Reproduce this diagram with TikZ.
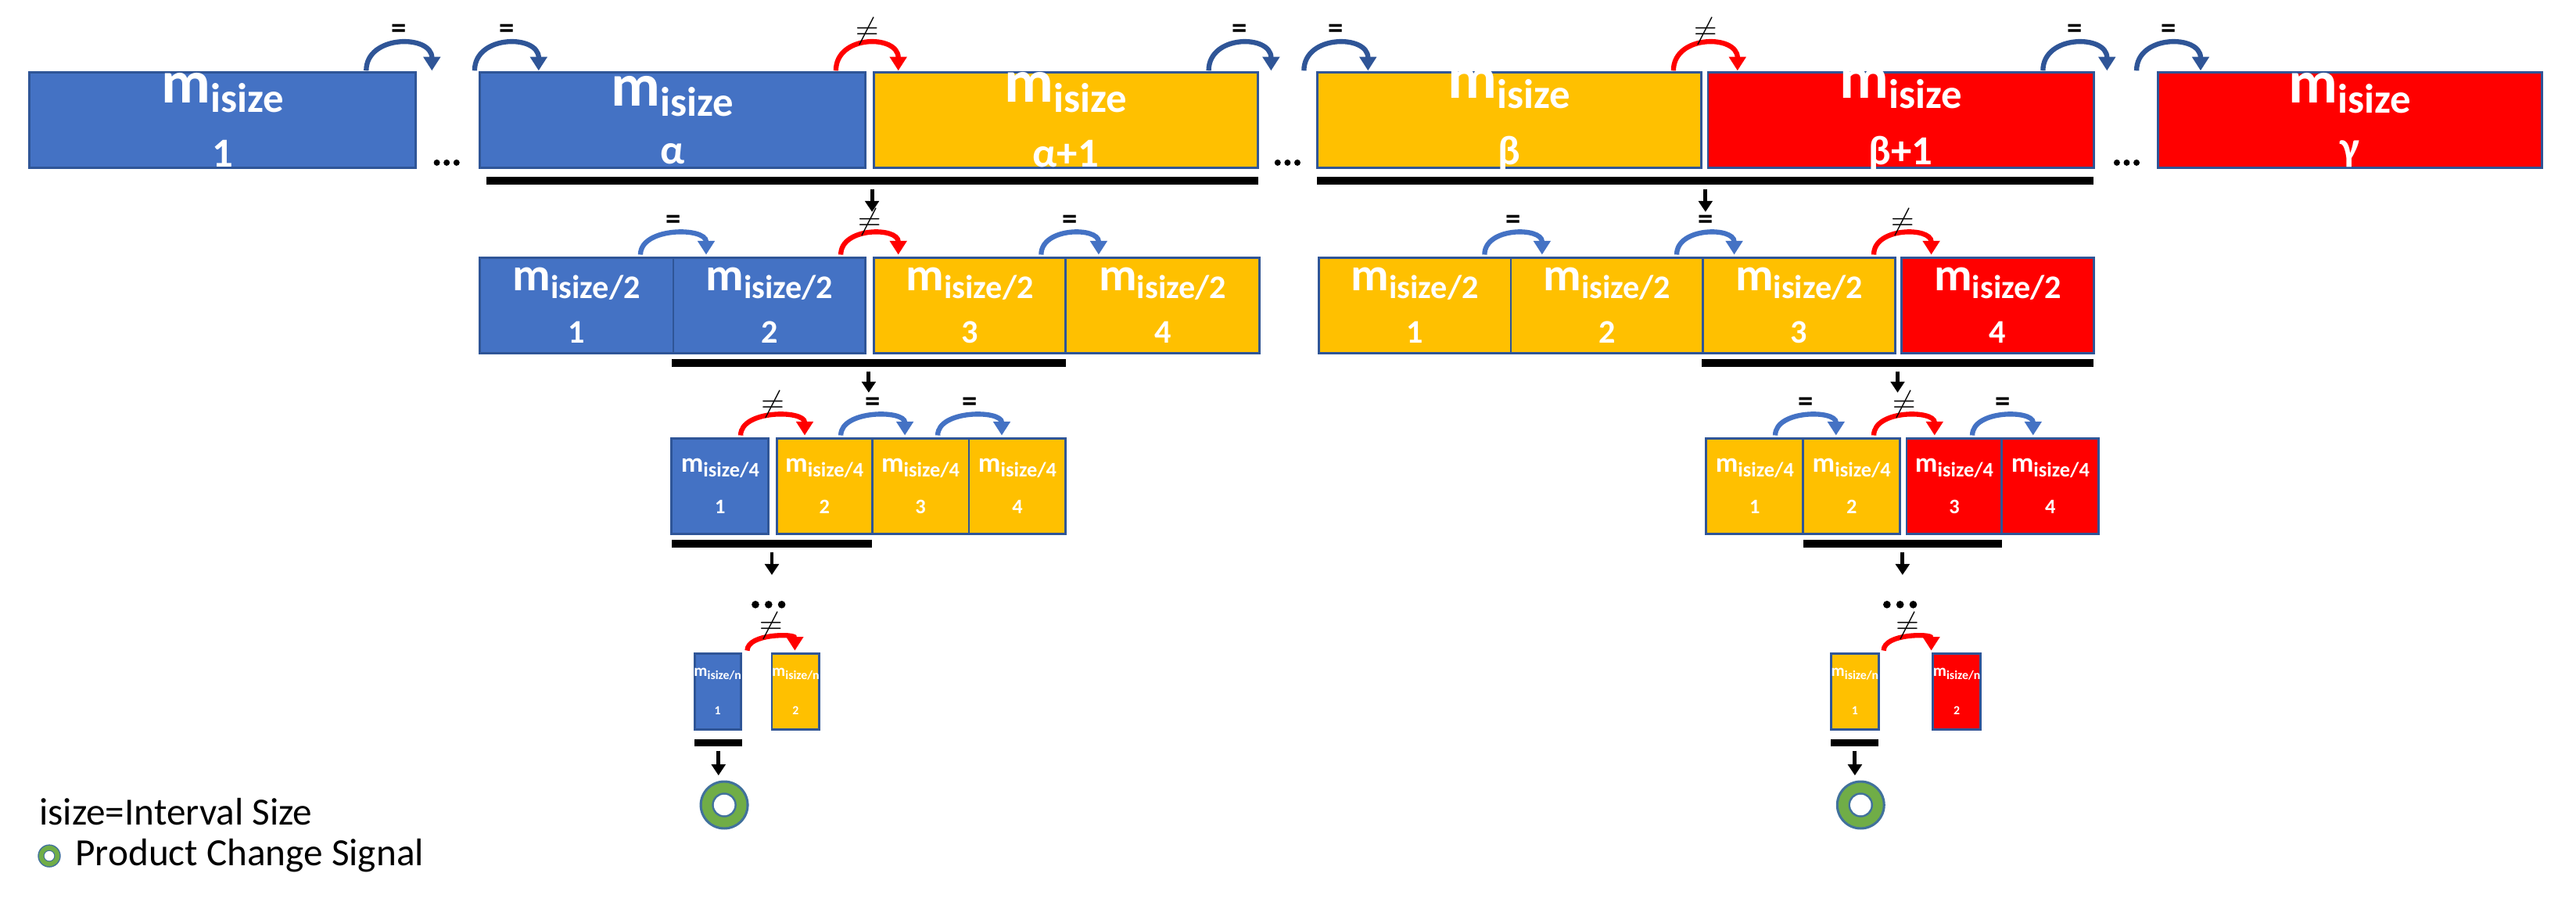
\documentclass[tikz,border=0pt]{standalone}
\usepackage{fontspec}
\setmainfont{Carlito}
\usetikzlibrary{arrows.meta}
\definecolor{cb}{HTML}{4472C4}
\definecolor{cy}{HTML}{FFC000}
\definecolor{cr}{HTML}{FF0000}
\definecolor{cbd}{HTML}{2F5597}
\definecolor{cg}{HTML}{70AD47}
\definecolor{cgb}{HTML}{41719C}
\newcommand\mlab[5]{\fontsize{#1}{#1}\selectfont\textbf{m}\raisebox{-0.35ex}{\fontsize{#2}{#2}\selectfont\textbf{#3}}\\[#5]\fontsize{#2}{#2}\selectfont\textbf{#4}}
\newcommand\bx[7]{\draw[box,fill=#5] (#1,#2) rectangle (#3,#4) node[midway,txt] (#6) {#7};}
\newcommand\arcc[6]{\draw[arc,#4] (#1,#3) .. controls (#1,#3-#6*1.3) and (#2,#3-#6*1.3) .. (#2,#3);
  \node[font=\bfseries\fontsize{11}{11}\selectfont] at ({(#1+#2)/2},#3-#6-7) {#5};}
\newcommand\ubar[4]{\fill (#1,#3-2.2) rectangle (#2,#3+2.2); \draw[dn] ({(#1+#2)/2},#3+5) -- ({(#1+#2)/2},#3+#4);}
\newcommand\ring[3]{\fill[cgb] (#1,#2) circle (#3); \fill[cg] (#1,#2) circle (#3*0.9); \fill[cgb] (#1,#2) circle (#3*0.5); \fill[white] (#1,#2) circle (#3*0.42);}
\begin{document}
\begin{tikzpicture}[x=0.021cm,y=-0.021cm,
  box/.style={draw=cbd,line width=0.8pt},
  txt/.style={text=white,align=center,inner sep=0pt},
  arc/.style={line width=1.8pt,-{Triangle[width=6pt,length=5pt]}},
  dn/.style={line width=1.4pt,-{Triangle[width=5pt,length=4pt]}}]
\useasboundingbox (0,0) rectangle (1568.6,548.6);
% row 1
\def\A{\mlab{22}{15}{isize}}
\bx{18}{44}{253}{102}{cb}{t1}{\A{1}{9pt}}
\bx{292}{44}{527}{102}{cb}{ta}{\A{α}{9pt}}
\bx{532}{44}{766}{102}{cy}{ta1}{\A{α+1}{9pt}}
\bx{802}{44}{1036}{102}{cy}{tb}{\A{β}{9pt}}
\bx{1040}{44}{1275}{102}{cr}{tb1}{\A{β+1}{9pt}}
\bx{1314}{44}{1548}{102}{cr}{tg}{\A{γ}{9pt}}
\foreach \x in {272,784,1295}{\foreach \d in {-6,0,6}\fill (\x+\d,99) circle (1.9);}
\arcc{223}{263}{43}{cbd}{=}{17}
\arcc{289}{328}{43}{cbd}{=}{17}
\arcc{509}{547}{43}{cr}{$\neq$}{17}
\arcc{736}{774}{43}{cbd}{=}{17}
\arcc{794}{833}{43}{cbd}{=}{17}
\arcc{1019}{1058}{43}{cr}{$\neq$}{17}
\arcc{1244}{1283}{43}{cbd}{=}{17}
\arcc{1301}{1340}{43}{cbd}{=}{17}
\ubar{296}{766}{110}{19}
\ubar{802}{1275}{110}{19}
% row 2
\def\B{\mlab{17}{12}{isize/2}}
\bx{292}{157}{410}{215}{cb}{l21}{\B{1}{7pt}}
\bx{410}{157}{527}{215}{cb}{l22}{\B{2}{7pt}}
\bx{532}{157}{649}{215}{cy}{l23}{\B{3}{7pt}}
\bx{649}{157}{767}{215}{cy}{l24}{\B{4}{7pt}}
\bx{803}{157}{920}{215}{cy}{r21}{\B{1}{7pt}}
\bx{920}{157}{1037}{215}{cy}{r22}{\B{2}{7pt}}
\bx{1037}{157}{1154}{215}{cy}{r23}{\B{3}{7pt}}
\bx{1158}{157}{1275}{215}{cr}{r24}{\B{4}{7pt}}
\arcc{390}{430}{155}{cb}{=}{13}
\arcc{512}{547}{155}{cr}{$\neq$}{13}
\arcc{634}{669}{155}{cb}{=}{13}
\arcc{904}{939}{155}{cb}{=}{13}
\arcc{1021}{1056}{155}{cb}{=}{13}
\arcc{1141}{1176}{155}{cr}{$\neq$}{13}
\ubar{409}{649}{221}{18}
\ubar{1036}{1275}{221}{18}
% row 3
\def\C{\mlab{10}{7.5}{isize/4}}
\bx{409}{267}{468}{325}{cb}{l31}{\C{1}{3pt}}
\bx{473}{267}{531}{325}{cy}{l32}{\C{2}{3pt}}
\bx{531}{267}{590}{325}{cy}{l33}{\C{3}{3pt}}
\bx{590}{267}{649}{325}{cy}{l34}{\C{4}{3pt}}
\bx{1039}{267}{1098}{325}{cy}{r31}{\C{1}{3pt}}
\bx{1098}{267}{1157}{325}{cy}{r32}{\C{2}{3pt}}
\bx{1161}{267}{1219}{325}{cr}{r33}{\C{3}{3pt}}
\bx{1219}{267}{1278}{325}{cr}{r34}{\C{4}{3pt}}
\arcc{451}{490}{265}{cr}{$\neq$}{12}
\arcc{512}{551}{265}{cb}{=}{12}
\arcc{571}{610}{265}{cb}{=}{12}
\arcc{1081}{1118}{265}{cb}{=}{12}
\arcc{1141}{1178}{265}{cr}{$\neq$}{12}
\arcc{1201}{1238}{265}{cb}{=}{12}
\ubar{409}{531}{331}{19}
\ubar{1098}{1219}{331}{19}
\foreach \x in {468,1157}{\foreach \d in {-8,0,8}\fill (\x+\d,368) circle (2.3);}
% row 4
\def\D{\mlab{6}{4.5}{isize/n}}
\bx{423}{398}{451}{444}{cb}{l41}{\D{1}{2pt}}
\bx{470}{398}{499}{444}{cy}{l42}{\D{2}{2pt}}
\bx{1115}{398}{1144}{444}{cy}{r41}{\D{1}{2pt}}
\bx{1177}{398}{1206}{444}{cr}{r42}{\D{2}{2pt}}
\arcc{455}{484}{396}{cr}{$\neq$}{8}
\arcc{1147}{1176}{396}{cr}{$\neq$}{8}
\ubar{423}{452}{452}{20}
\ubar{1115}{1144}{452}{20}
\ring{441}{490}{15}
\ring{1133}{490}{15}
% legend
\node[anchor=west,font=\fontsize{14}{14}\selectfont] (lg1) at (18,494) {isize=Interval Size};
\ring{30}{521}{7}
\node[anchor=west,font=\fontsize{14}{14}\selectfont] (lg2) at (40,521) {Product Change Signal};
\end{tikzpicture}
\end{document}
